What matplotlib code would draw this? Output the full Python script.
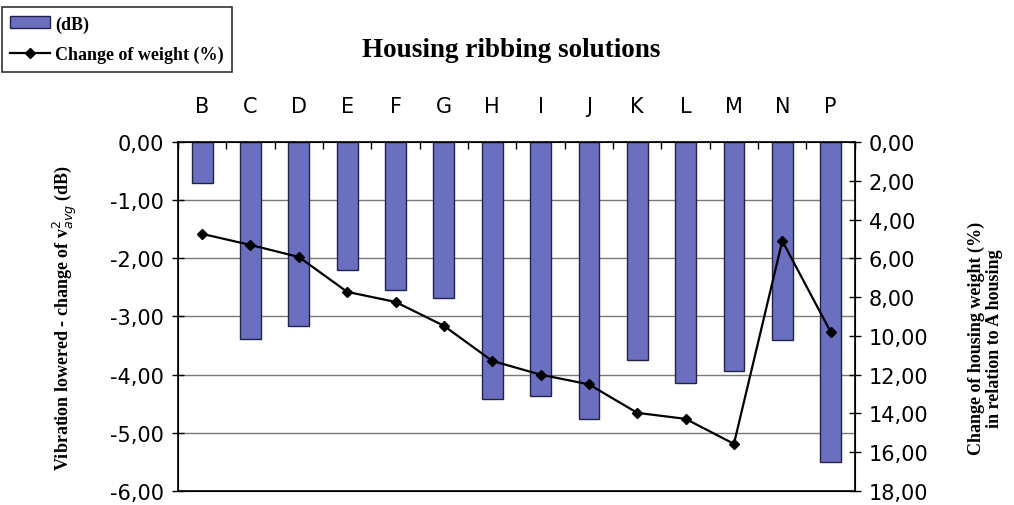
import matplotlib
matplotlib.use("Agg")
import matplotlib.pyplot as plt
import numpy as np
from matplotlib.ticker import FuncFormatter

categories = ["B", "C", "D", "E", "F", "G", "H", "I", "J", "K", "L", "M", "N", "P"]
vibration_db = [-0.70, -3.38, -3.17, -2.20, -2.55, -2.68, -4.42, -4.37, -4.77, -3.75, -4.15, -3.94, -3.40, -5.51]
weight_change = [4.74, 5.31, 5.93, 7.73, 8.25, 9.48, 11.29, 12.0, 12.5, 13.97, 14.28, 15.57, 5.10, 9.79]
left_ticks = [0, -1, -2, -3, -4, -5, -6]
right_ticks = [0, 2, 4, 6, 8, 10, 12, 14, 16, 18]

bar_face = "#6b6fc0"
bar_edge = "#23234a"
sans = ["DejaVu Sans"]
serif = ["Liberation Serif", "DejaVu Serif"]

fig = plt.figure(figsize=(10.14, 5.06), dpi=100)
ax = fig.add_axes([0.1755, 0.0277, 0.843 - 0.1755, 0.7174 - 0.0277])
x = np.arange(len(categories))

for lv in left_ticks[1:-1]:
    ax.axhline(lv, color="#7a7a7a", lw=1.0, zorder=0)

bars = ax.bar(x, vibration_db, width=0.43, color=bar_face, edgecolor=bar_edge,
              linewidth=1.0, zorder=2, label="(dB)")
ax.set_xlim(-0.5, len(categories) - 0.5)
ax.set_ylim(-6, 0)
ax.set_yticks(left_ticks)
ax.yaxis.set_major_formatter(FuncFormatter(lambda v, p: f"{v:.2f}".replace(".", ",")))
ax.tick_params(axis="y", direction="inout", length=8, width=1, labelsize=15, pad=6)
for t in ax.get_yticklabels():
    t.set_fontfamily(sans)

ax.xaxis.tick_top()
ax.set_xticks(x)
ax.set_xticklabels(categories, fontfamily=sans, fontsize=15)
ax.set_xticks(np.arange(len(categories) + 1) - 0.5, minor=True)
ax.tick_params(axis="x", which="major", length=0, pad=19)
ax.tick_params(axis="x", which="minor", direction="in", length=5, width=1)

for s in ax.spines.values():
    s.set_linewidth(1.2)
    s.set_color("black")

ax.set_ylabel(r"Vibration lowered - change of v$^2_{avg}$ (dB)", fontfamily=serif,
              fontsize=13, fontweight="bold")
ax.yaxis.set_label_coords(-0.146, 0.50)

ax2 = ax.twinx()
line, = ax2.plot(x, weight_change, color="black", lw=1.6, marker="D", markersize=5,
                 zorder=3, label="Change of weight (%)")
ax2.set_ylim(18, 0)
ax2.set_yticks(right_ticks)
ax2.yaxis.set_major_formatter(FuncFormatter(lambda v, p: f"{v:.2f}".replace(".", ",")))
ax2.tick_params(axis="y", direction="inout", length=8, width=1, labelsize=15, pad=6)
for t in ax2.get_yticklabels():
    t.set_fontfamily(sans)
ax2.set_ylabel("Change of housing weight (%)\nin relation to A housing", fontfamily=serif,
               fontsize=13, fontweight="bold", rotation=90, linespacing=1.1,
               va="center", ha="center")
ax2.yaxis.set_label_coords(1.193, 0.44)

fig.text(0.504, 0.901, "Housing ribbing solutions", ha="center", va="center",
         fontfamily=serif, fontsize=19.5, fontweight="bold")

leg = fig.legend([bars, line], ["(dB)", "Change of weight (%)"], loc="upper left",
                 bbox_to_anchor=(0.002, 0.984), frameon=True, fancybox=False,
                 edgecolor="black", prop={"family": serif, "size": 13, "weight": "bold"},
                 handlelength=2.2, borderpad=0.45, labelspacing=0.75, handletextpad=0.3,
                 borderaxespad=0)
leg.get_frame().set_linewidth(1.2)

fig.savefig("out.png", dpi=100)
